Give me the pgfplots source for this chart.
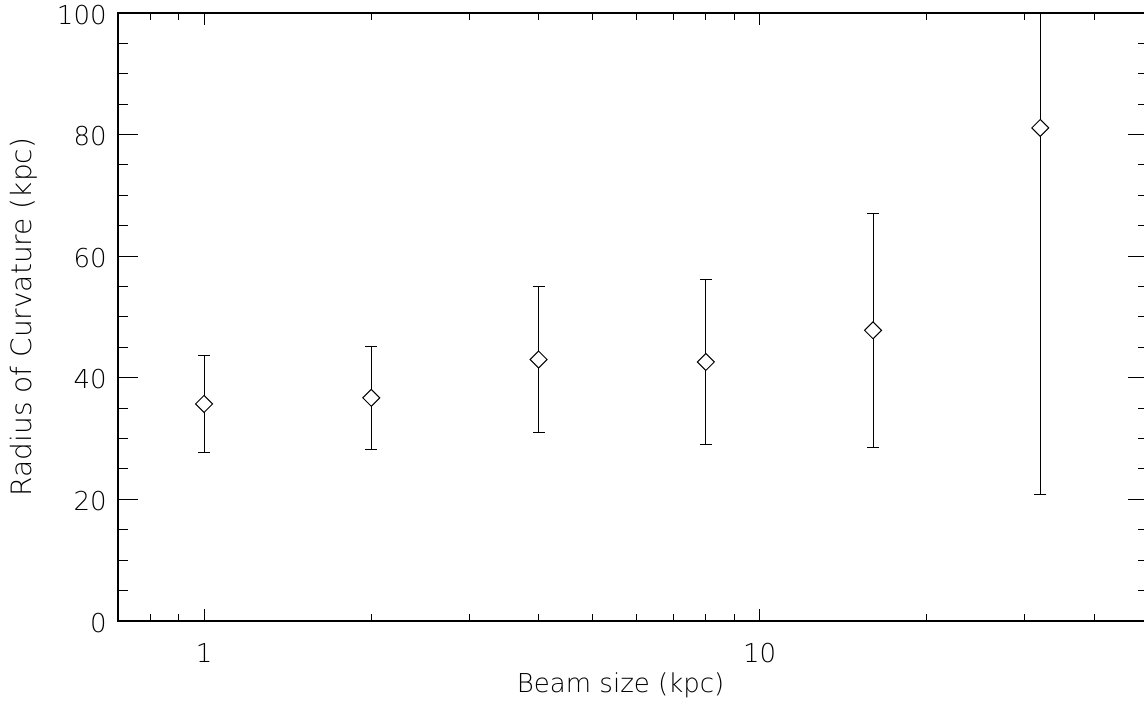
\documentclass[border=0pt]{standalone}
\usepackage{fontspec}
\setmainfont{DejaVu Sans ExtraLight}
\usepackage{pgfplots}
\usepackage{pgfplotstable}
\pgfplotsset{compat=1.18}
\usetikzlibrary{calc}

% beam size, radius of curvature, symmetric error (kpc)
\pgfplotstableread{
x  y    ey
1  35.7 8.0
2  36.7 8.5
4  43.0 12.0
8  42.6 13.5
16 47.8 19.2
32 81.1 60.3
}\beamdata

\begin{document}
\begin{tikzpicture}
% axis A: data and y ticks
\begin{axis}[xmode=log, xmin=0.7, xmax=50, ymin=0, ymax=100,
  width=515pt, height=304pt, scale only axis, name=A,
  axis line style={line width=0.6pt}, tick style={line width=0.5pt, black},
  font=\fontsize{13}{15}\selectfont, tick align=inside,
  xtick=\empty, minor xtick={},
  ytick={0,20,40,60,80,100}, yticklabels={0,20,40,60,80,\raisebox{-4.7pt}{100}},
  minor ytick={5,10,15,25,30,35,45,50,55,65,70,75,85,90,95},
  major tick length=10pt, minor tick length=5pt,
  yticklabel style={anchor=east, inner sep=0pt, xshift=-5.5pt, yshift=-0.8pt, text=black},
  ylabel={Radius of Curvature (kpc)},
  ylabel style={at={(axis description cs:0,0.5)}, anchor=base, inner sep=0pt, yshift=43pt,
    text=black, font=\fontsize{14}{16}\selectfont}]
\addplot[black, line width=0.5pt, only marks, mark=square*,
  mark options={rotate=45, fill=white, line width=0.5pt}, mark size=3pt,
  error bars/.cd, y dir=both, y explicit,
  error bar style={line width=0.5pt, black},
  error mark options={rotate=90, mark size=3pt, line width=0.5pt, black}]
  table[x=x, y=y, y error=ey] {\beamdata};
\end{axis}
% axis B: x ticks and label
\begin{axis}[xmode=log, xmin=0.7, xmax=50, ymin=0, ymax=100,
  width=515pt, height=304pt, scale only axis,
  axis line style={line width=0.6pt}, tick style={line width=0.5pt, black},
  font=\fontsize{13}{15}\selectfont, tick align=inside,
  xtick={1,10}, xticklabels={1,10},
  minor xtick={0.8,0.9,2,3,4,5,6,7,8,9,20,30,40},
  ytick=\empty, minor ytick={},
  major tick length=6pt, minor tick length=3.3pt,
  xticklabel style={anchor=north, inner sep=0pt, yshift=-11pt, text=black},
  xlabel={Beam size (kpc)},
  xlabel style={at={(axis description cs:0.488,0)}, anchor=base, inner sep=0pt, yshift=-36pt, text=black}]
\end{axis}
\pgfresetboundingbox
\path[use as bounding box] ($(A.south west)+(-59pt,-41.5pt)$) rectangle ($(A.north east)+(-2pt,6.5pt)$);
\end{tikzpicture}
\end{document}
